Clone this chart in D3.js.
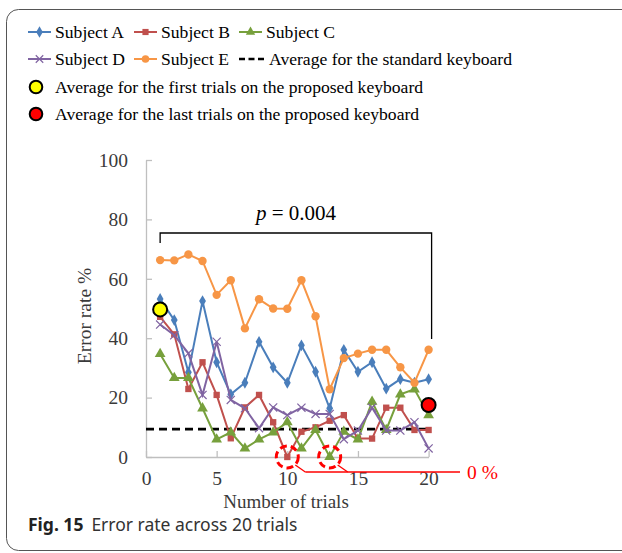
<!DOCTYPE html>
<html>
<head>
<meta charset="utf-8">
<script src="https://cdn.jsdelivr.net/npm/d3@7"></script>
<style>
  html, body { margin: 0; padding: 0; background: #fff; }
  svg { display: block; }
</style>
</head>
<body>
<svg id="chart" width="622" height="553"></svg>
<script>
// Error rate (%) per trial for each subject
const trials = d3.range(1, 21);
const subjectA = [53.2, 46.1, 28.5, 52.5, 31.9, 21.1, 25.0, 38.8, 30.2, 25.0, 37.6, 28.7, 16.4, 36.1, 28.7, 31.9, 23.0, 26.2, 25.0, 26.2];
const subjectB = [47.2, 41.3, 22.9, 31.9, 20.9, 6.3, 16.7, 20.9, 11.7, 0, 8.5, 10.0, 12.2, 14.1, 6.2, 6.2, 16.6, 16.6, 9.1, 9.1];
const subjectC = [34.7, 26.6, 26.6, 16.4, 5.9, 8.3, 2.9, 5.9, 8.3, 11.7, 2.9, 9.1, 0, 8.5, 5.9, 18.6, 9.1, 21.1, 22.8, 14.1];
const subjectD = [44.6, 41.0, 34.9, 20.9, 38.8, 19.2, 16.4, 9.7, 16.7, 14.1, 16.6, 14.5, 14.5, 6.0, 8.9, 16.6, 8.9, 8.9, 11.7, 2.9];
const subjectE = [66.3, 66.2, 68.2, 66.0, 54.6, 59.5, 43.3, 53.1, 50.0, 49.9, 59.5, 47.4, 22.8, 33.3, 34.8, 36.1, 36.1, 30.2, 25.0, 36.1];

const seriesNames = ["Subject A", "Subject B", "Subject C", "Subject D", "Subject E"];
const seriesValues = [subjectA, subjectB, subjectC, subjectD, subjectE];
const seriesColors = ["#4a7ebb", "#c0504d", "#77a03c", "#8064a2", "#f79646"];
const seriesSymbols = [d3.symbolDiamond, d3.symbolSquare, d3.symbolTriangle, d3.symbolTimes, d3.symbolCircle];

const standardAverage = 9.4;            // average for the standard keyboard
const firstTrialAverage = [1, 49.7];    // [trial, error rate]
const lastTrialAverage = [20, 17.5];
const zeroPoints = [[10, 0], [13, 0]];  // trials where an error rate of 0 % was reached
const pValueText = "= 0.004";

const xTicks = [0, 5, 10, 15, 20];
const yTicks = [0, 20, 40, 60, 80, 100];

const svg = d3.select("#chart");
const serif = "'Liberation Serif', 'Times New Roman', serif";

// Figure frame
svg.append("rect")
  .attr("x", 6.5).attr("y", 9.5)
  .attr("width", 720).attr("height", 541)
  .attr("rx", 12).attr("ry", 12)
  .attr("fill", "none").attr("stroke", "#555").attr("stroke-width", 1);

const x = d3.scaleLinear().domain([0, 20]).range([146, 428.6]);
const y = d3.scaleLinear().domain([0, 100]).range([457, 160]);

// Axes with inward ticks
const axisColor = "#bfbfbf";
const gx = svg.append("g").attr("transform", `translate(0,${y(0)})`)
  .call(d3.axisBottom(x).tickValues(xTicks).tickSizeInner(-6).tickSizeOuter(0).tickPadding(12));
const gy = svg.append("g").attr("transform", `translate(${x(0)},0)`)
  .call(d3.axisLeft(y).tickValues(yTicks).tickSizeInner(-6).tickSizeOuter(0).tickPadding(14));
[gx, gy].forEach(g => {
  g.select(".domain").attr("stroke", axisColor).attr("stroke-width", 1.3);
  g.selectAll(".tick line").attr("stroke", axisColor).attr("stroke-width", 1.3);
  g.selectAll(".tick text").attr("font-family", serif).attr("font-size", 19.5).attr("fill", "#3a3a3a");
});
gx.selectAll(".tick text").attr("dy", "0.82em");
gy.selectAll(".tick text").attr("x", -18);

// Axis titles
svg.append("text")
  .attr("x", 286).attr("y", 507.5)
  .attr("text-anchor", "middle")
  .attr("font-family", serif).attr("font-size", 19).attr("fill", "#3a3a3a")
  .text("Number of trials");
svg.append("text")
  .attr("transform", `translate(91,316) rotate(-90)`)
  .attr("text-anchor", "middle")
  .attr("font-family", serif).attr("font-size", 19.5).attr("fill", "#3a3a3a")
  .text("Error rate %");

// Average for the standard keyboard
svg.append("line")
  .attr("x1", x(0)).attr("x2", x(20))
  .attr("y1", y(standardAverage)).attr("y2", y(standardAverage))
  .attr("stroke", "#000").attr("stroke-width", 2.6)
  .attr("stroke-dasharray", "8,5");

// Subject series
const line = d3.line().x((d, i) => x(trials[i])).y(d => y(d));
seriesValues.forEach((vals, s) => {
  const color = seriesColors[s];
  const g = svg.append("g");
  g.append("path").datum(vals)
    .attr("d", line)
    .attr("fill", "none").attr("stroke", color).attr("stroke-width", 2);
  const isTimes = seriesSymbols[s] === d3.symbolTimes;
  const size = s === 4 ? 55 : (s === 2 ? 50 : (isTimes ? 45 : 40));
  g.selectAll("path.mark").data(vals).join("path")
    .attr("class", "mark")
    .attr("transform", (d, i) => `translate(${x(trials[i])},${y(d)})`)
    .attr("d", d3.symbol().type(seriesSymbols[s]).size(size))
    .attr("fill", isTimes ? "none" : color)
    .attr("stroke", color)
    .attr("stroke-width", isTimes ? 1.2 : 0);
});

// Averages for the first and last trials on the proposed keyboard
svg.append("circle")
  .attr("cx", x(firstTrialAverage[0])).attr("cy", y(firstTrialAverage[1])).attr("r", 7)
  .attr("fill", "#ffff00").attr("stroke", "#000").attr("stroke-width", 2);
svg.append("circle")
  .attr("cx", x(lastTrialAverage[0])).attr("cy", y(lastTrialAverage[1])).attr("r", 7)
  .attr("fill", "#ff0000").attr("stroke", "#000").attr("stroke-width", 2);

// Significance bracket between first and last trials
const bracketY = 233;
svg.append("path")
  .attr("d", `M${x(firstTrialAverage[0])},243 V${bracketY} H${x(20) + 3} V339`)
  .attr("fill", "none").attr("stroke", "#000").attr("stroke-width", 1.3);
const pText = svg.append("text")
  .attr("x", 296).attr("y", 220)
  .attr("text-anchor", "middle")
  .attr("font-family", serif).attr("font-size", 21).attr("fill", "#000");
pText.append("tspan").attr("font-style", "italic").text("p");
pText.append("tspan").text(" " + pValueText);

// Highlight of the 0 % points
const red = "#ff0000";
zeroPoints.forEach(p => {
  const cx = x(p[0]), cy = y(p[1]);
  svg.append("ellipse")
    .attr("cx", cx).attr("cy", cy).attr("rx", 11).attr("ry", 11)
    .attr("fill", "none").attr("stroke", red).attr("stroke-width", 3)
    .attr("stroke-dasharray", "7,4");
  svg.append("line")
    .attr("x1", cx + 8).attr("y1", cy + 8)
    .attr("x2", cx + 18).attr("y2", 472)
    .attr("stroke", red).attr("stroke-width", 1.3);
});
svg.append("line")
  .attr("x1", x(zeroPoints[0][0]) + 18).attr("x2", 460)
  .attr("y1", 472).attr("y2", 472)
  .attr("stroke", red).attr("stroke-width", 1.3);
svg.append("text")
  .attr("x", 467).attr("y", 479)
  .attr("font-family", serif).attr("font-size", 19.5).attr("fill", red)
  .text("0 %");

// Legend
const legendItems = [
  { label: "Subject A", s: 0, lx: 28, ly: 32 },
  { label: "Subject B", s: 1, lx: 134, ly: 32 },
  { label: "Subject C", s: 2, lx: 239, ly: 32 },
  { label: "Subject D", s: 3, lx: 28, ly: 59 },
  { label: "Subject E", s: 4, lx: 134, ly: 59 }
];
const legend = svg.append("g");
const legendFont = 17.6;
legendItems.forEach(it => {
  const color = seriesColors[it.s];
  const isTimes = seriesSymbols[it.s] === d3.symbolTimes;
  legend.append("line")
    .attr("x1", it.lx).attr("x2", it.lx + 23)
    .attr("y1", it.ly).attr("y2", it.ly)
    .attr("stroke", color).attr("stroke-width", 2);
  legend.append("path")
    .attr("transform", `translate(${it.lx + 11.5},${it.ly})`)
    .attr("d", d3.symbol().type(seriesSymbols[it.s]).size(it.s === 4 ? 45 : 38))
    .attr("fill", isTimes ? "none" : color)
    .attr("stroke", color).attr("stroke-width", isTimes ? 1.2 : 0);
  legend.append("text")
    .attr("x", it.lx + 27).attr("y", it.ly).attr("dy", "0.35em")
    .attr("font-family", serif).attr("font-size", legendFont).attr("fill", "#000")
    .text(it.label);
});
legend.append("line")
  .attr("x1", 239).attr("x2", 264).attr("y1", 59).attr("y2", 59)
  .attr("stroke", "#000").attr("stroke-width", 2.6).attr("stroke-dasharray", "6,3.5");
legend.append("text")
  .attr("x", 269).attr("y", 59).attr("dy", "0.35em")
  .attr("font-family", serif).attr("font-size", legendFont).attr("fill", "#000")
  .text("Average for the standard keyboard");

const circleLegend = [
  { label: "Average for the first trials on the proposed keyboard", fill: "#ffff00", ly: 87 },
  { label: "Average for the last trials on the proposed keyboard", fill: "#ff0000", ly: 114 }
];
circleLegend.forEach(it => {
  legend.append("circle")
    .attr("cx", 36).attr("cy", it.ly).attr("r", 6.3)
    .attr("fill", it.fill).attr("stroke", "#000").attr("stroke-width", 2);
  legend.append("text")
    .attr("x", 55).attr("y", it.ly).attr("dy", "0.35em")
    .attr("font-family", serif).attr("font-size", legendFont).attr("fill", "#000")
    .text(it.label);
});

// Caption
const caption = svg.append("text")
  .attr("x", 28).attr("y", 531)
  .attr("font-family", "'Noto Sans', 'Open Sans', sans-serif").attr("font-size", 17.5).attr("fill", "#222");
caption.append("tspan").attr("font-weight", "bold").text("Fig. 15");
caption.append("tspan").attr("dx", 8).attr("fill", "#333").text("Error rate across 20 trials");
</script>
</body>
</html>
